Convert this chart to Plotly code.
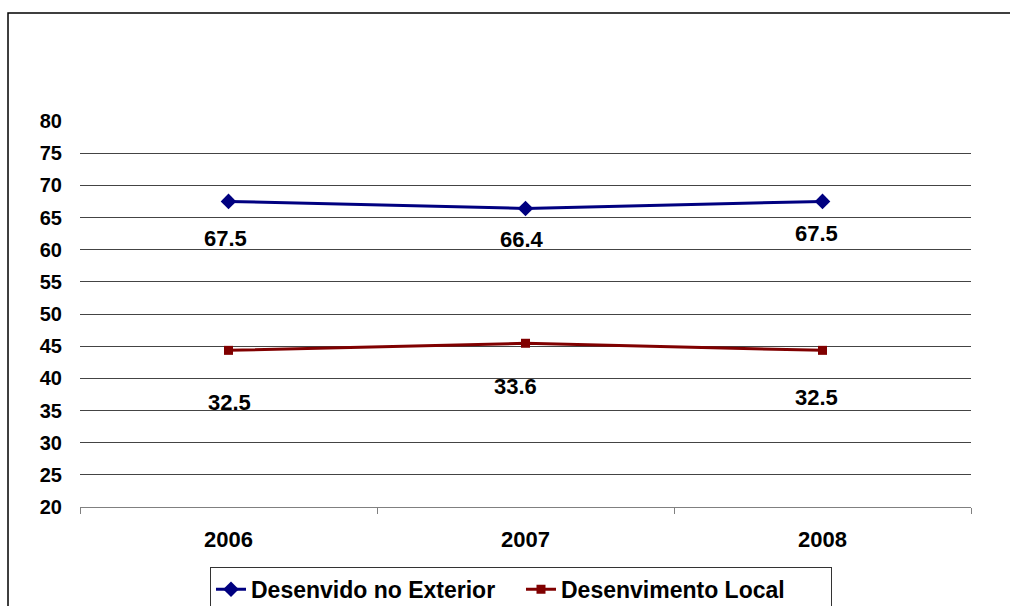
import plotly.graph_objects as go

years = ["2006", "2007", "2008"]
exterior = [67.5, 66.4, 67.5]
local = [32.5, 33.6, 32.5]
y_ticks = list(range(20, 85, 5))

FONT = "Liberation Sans, Arial, sans-serif"
BLUE = "#000080"
RED = "#800000"

# offset of the (hidden) secondary scale on which the local series is drawn
local_offset = 11.85

fig = go.Figure()
fig.add_trace(go.Scatter(
    x=years, y=exterior, name="Desenvido no Exterior", mode="lines+markers",
    line=dict(color=BLUE, width=3),
    marker=dict(symbol="diamond", size=12, color=BLUE),
))
fig.add_trace(go.Scatter(
    x=years, y=local, name="Desenvimento Local", mode="lines+markers",
    yaxis="y2",
    line=dict(color=RED, width=3),
    marker=dict(symbol="square", size=9, color=RED),
))

ext_shift = [(-3, -37), (-4, -31), (-6, -32)]
loc_shift = [(1, -52), (-10, -43), (-6, -47)]
for i, yr in enumerate(years):
    fig.add_annotation(x=i, y=exterior[i], xref="x", yref="y", text=f"{exterior[i]:.1f}",
                       showarrow=False, xshift=ext_shift[i][0], yshift=ext_shift[i][1],
                       font=dict(family=FONT, size=22, color="black", weight="bold"))
    fig.add_annotation(x=i, y=local[i], xref="x", yref="y2", text=f"{local[i]:.1f}",
                       showarrow=False, xshift=loc_shift[i][0], yshift=loc_shift[i][1],
                       font=dict(family=FONT, size=22, color="black", weight="bold"))

# outer chart frame
fig.add_shape(type="rect", xref="paper", yref="paper", layer="below",
              x0=-0.0808, x1=1.2, y0=-0.5, y1=1.2798,
              line=dict(color="black", width=1.5), fillcolor="rgba(0,0,0,0)")

fig.update_layout(
    width=1010, height=606,
    margin=dict(l=80, r=39, t=121, b=99, autoexpand=False),
    paper_bgcolor="white", plot_bgcolor="white",
    font=dict(family=FONT, color="black"),
    showlegend=True,
    legend=dict(orientation="h", x=0.1459, y=-0.155, xanchor="left", yanchor="top",
                bordercolor="#333", borderwidth=1, bgcolor="white",
                font=dict(family=FONT, size=23, color="black", weight="bold"),
                entrywidth=265, entrywidthmode="pixels", tracegroupgap=0),
    xaxis=dict(type="category", range=[-0.5, 2.5], showgrid=False,
               showline=True, linecolor="#808080", linewidth=1,
               ticks="outside", tickson="boundaries", ticklen=6, tickcolor="#808080",
               tickfont=dict(family=FONT, size=22, color="black", weight="bold"),
               ticklabelstandoff=13, zeroline=False),
    yaxis=dict(range=[20, 80], tickvals=y_ticks, showgrid=True, gridcolor="#444",
               gridwidth=1, showline=False, zeroline=False, ticks="",
               tickfont=dict(family=FONT, size=20, color="black", weight="bold"),
               ticklabelstandoff=17),
    yaxis2=dict(range=[20 - local_offset, 80 - local_offset], overlaying="y",
                visible=False, showgrid=False, zeroline=False),
)

fig.write_html("out.html")
